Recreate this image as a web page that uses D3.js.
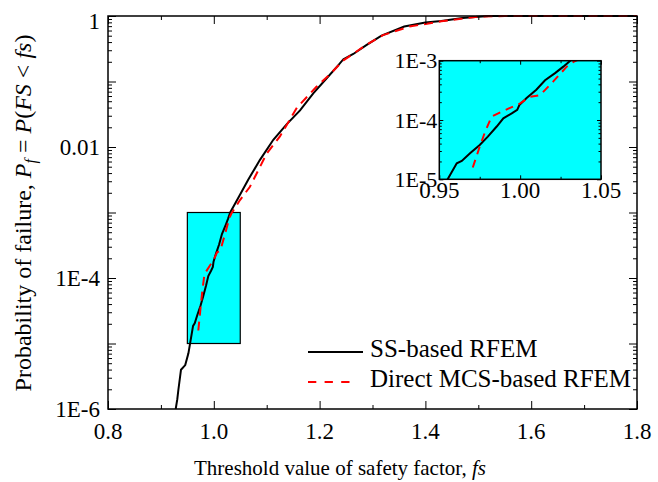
<!DOCTYPE html>
<html>
<head>
<meta charset="utf-8">
<script src="https://cdn.jsdelivr.net/npm/d3@7"></script>
<style>
  body { margin: 0; background: #fff; }
  text { font-family: "Liberation Serif", "Times New Roman", serif; fill: #000; }
</style>
</head>
<body>
<div id="chart"></div>
<script>
// SS-based RFEM (solid black)
var ssFs = [0.928, 0.931, 0.933, 0.938, 0.946, 0.952, 0.9556, 0.9608, 0.9639, 0.969, 0.975, 0.980,
    0.9855, 0.9896, 0.9948, 0.9982, 0.9995, 1.004, 1.010, 1.0154, 1.0216, 1.0267, 1.031,
    1.0495, 1.065, 1.087, 1.1125, 1.138, 1.163, 1.188, 1.2134, 1.2355, 1.245, 1.2637, 1.289,
    1.317, 1.36, 1.40, 1.43, 1.47, 1.50, 1.52, 1.8];
var ssPf = [1e-6, 1.41e-6, 1.95e-6, 3.98e-6, 4.68e-6, 7.08e-6, 1.05e-5, 1.86e-5, 2.04e-5, 2.75e-5, 3.8e-5, 5.25e-5,
    7.76e-5, 1.07e-4, 1.29e-4, 1.48e-4, 1.78e-4, 2.34e-4, 3.24e-4, 4.68e-4, 6.17e-4, 7.94e-4, 1e-3,
    1.86e-3, 3.16e-3, 6.31e-3, 0.0129, 0.0224, 0.0363, 0.066, 0.112, 0.178, 0.219, 0.263, 0.363,
    0.501, 0.692, 0.794, 0.841, 0.933, 0.977, 1, 1];

// Direct MCS-based RFEM (dashed red)
var mcsFs = [0.9707, 0.975, 0.9783, 0.9824, 0.9927, 1.000, 1.006, 1.0123, 1.0205, 1.0288, 1.033,
    1.0495, 1.068, 1.100, 1.125, 1.157, 1.194, 1.22, 1.245, 1.29, 1.32, 1.37, 1.43, 1.50, 1.55, 1.8];
var mcsPf = [1.58e-5, 3.55e-5, 6.31e-5, 1.15e-4, 1.55e-4, 1.91e-4, 2.45e-4, 2.63e-4, 4.47e-4, 7.94e-4, 9.55e-4,
    1.55e-3, 2.45e-3, 7.94e-3, 0.0145, 0.0398, 0.083, 0.13, 0.21, 0.37, 0.51, 0.69, 0.83, 0.977, 1, 1];

var xTicks = [0.8, 1.0, 1.2, 1.4, 1.6, 1.8];
var xMinor = [0.9, 1.1, 1.3, 1.5, 1.7];
var yDecades = [1e-6, 1e-5, 1e-4, 1e-3, 1e-2, 1e-1, 1];
var yTickVals = [1, 0.01, 1e-4, 1e-6];
var yTickLabels = ["1", "0.01", "1E-4", "1E-6"];

var insetXTicks = [0.95, 1.00, 1.05];
var insetXMinor = [0.975, 1.025];
var insetYTicks = [1e-3, 1e-4, 1e-5];
var insetYLabels = ["1E-3", "1E-4", "1E-5"];

var seriesNames = ["SS-based RFEM", "Direct MCS-based RFEM"];

var width = 658, height = 482;
var plot = { left: 108, right: 637, top: 16, bottom: 409 };
var ins = { left: 439.3, right: 601, top: 60.7, bottom: 179.3 };

function minorLog(lo, hi) {
    var out = [];
    for (var d = lo; d < hi * 0.999; d *= 10) {
        for (var k = 2; k <= 9; k++) out.push(d * k);
    }
    return out;
}

var svg = d3.select("#chart").append("svg")
    .attr("width", width)
    .attr("height", height);

var x = d3.scaleLinear().domain([0.8, 1.8]).range([plot.left, plot.right]);
var y = d3.scaleLog().domain([1e-6, 1]).range([plot.bottom, plot.top]);

svg.append("clipPath").attr("id", "mainClip")
    .append("rect")
    .attr("x", plot.left).attr("y", plot.top - 2)
    .attr("width", plot.right - plot.left).attr("height", plot.bottom - plot.top + 2);

// zoom window rectangle
svg.append("rect")
    .attr("x", x(0.95)).attr("y", y(1e-3))
    .attr("width", x(1.05) - x(0.95)).attr("height", y(1e-5) - y(1e-3))
    .attr("fill", "#00ffff")
    .attr("stroke", "#000")
    .attr("stroke-width", 1.2);

function drawAxes(g, xs, ys, box, xt, xm, ymaj, ymin, big, small) {
    g.append("g").attr("transform", `translate(0,${box.bottom})`)
        .call(d3.axisBottom(xs).tickValues(xt).tickSize(-big).tickSizeOuter(0).tickFormat(""));
    g.append("g").attr("transform", `translate(0,${box.bottom})`)
        .call(d3.axisBottom(xs).tickValues(xm).tickSize(-small).tickSizeOuter(0).tickFormat(""));
    g.append("g").attr("transform", `translate(0,${box.top})`)
        .call(d3.axisTop(xs).tickValues(xt).tickSize(-big).tickSizeOuter(0).tickFormat(""));
    g.append("g").attr("transform", `translate(0,${box.top})`)
        .call(d3.axisTop(xs).tickValues(xm).tickSize(-small).tickSizeOuter(0).tickFormat(""));
    g.append("g").attr("transform", `translate(${box.left},0)`)
        .call(d3.axisLeft(ys).tickValues(ymaj).tickSize(-big).tickSizeOuter(0).tickFormat(""));
    g.append("g").attr("transform", `translate(${box.left},0)`)
        .call(d3.axisLeft(ys).tickValues(ymin).tickSize(-small).tickSizeOuter(0).tickFormat(""));
    g.append("g").attr("transform", `translate(${box.right},0)`)
        .call(d3.axisRight(ys).tickValues(ymaj).tickSize(-big).tickSizeOuter(0).tickFormat(""));
    g.append("g").attr("transform", `translate(${box.right},0)`)
        .call(d3.axisRight(ys).tickValues(ymin).tickSize(-small).tickSizeOuter(0).tickFormat(""));
    g.selectAll(".domain").remove();
    g.selectAll(".tick line").attr("stroke", "#000").attr("stroke-width", 1);
    g.append("rect")
        .attr("x", box.left).attr("y", box.top)
        .attr("width", box.right - box.left).attr("height", box.bottom - box.top)
        .attr("fill", "none").attr("stroke", "#000").attr("stroke-width", 1.5);
}

var line = d3.line()
    .x(d => x(d[0]))
    .y(d => y(d[1]));

var curves = svg.append("g").attr("clip-path", "url(#mainClip)");
curves.append("path")
    .datum(d3.zip(ssFs, ssPf))
    .attr("d", line)
    .attr("fill", "none").attr("stroke", "#000").attr("stroke-width", 2);
curves.append("path")
    .datum(d3.zip(mcsFs, mcsPf))
    .attr("d", line)
    .attr("fill", "none").attr("stroke", "#ff0000").attr("stroke-width", 2)
    .attr("stroke-dasharray", "9,6");

var mainAxes = svg.append("g");
drawAxes(mainAxes, x, y, plot, xTicks, xMinor, yDecades, minorLog(1e-6, 1), 8, 4);

// tick labels
svg.append("g").selectAll("text")
    .data(xTicks).join("text")
    .attr("x", d => x(d)).attr("y", 439)
    .attr("text-anchor", "middle")
    .style("font-size", "23px")
    .text(d => d.toFixed(1));

svg.append("g").selectAll("text")
    .data(yTickVals).join("text")
    .attr("x", 100).attr("y", d => y(d) + (d === 1 ? 5 : 0))
    .attr("dy", "0.35em")
    .attr("text-anchor", "end")
    .style("font-size", "23px")
    .text((d, i) => yTickLabels[i]);

// axis titles
svg.append("text")
    .attr("x", 340).attr("y", 475)
    .attr("text-anchor", "middle")
    .style("font-size", "21px")
    .html('Threshold value of safety factor, <tspan font-style="italic">fs</tspan>');

svg.append("text")
    .attr("transform", "translate(31,213) rotate(-90)")
    .attr("text-anchor", "middle")
    .style("font-size", "24px")
    .html('Probability of failure, <tspan font-style="italic">P</tspan><tspan font-style="italic" dy="5" font-size="16px">f</tspan><tspan dy="-5"> = </tspan><tspan font-style="italic">P</tspan>(<tspan font-style="italic">FS</tspan> &lt; <tspan font-style="italic">fs</tspan>)');

// legend
var legend = svg.append("g");
legend.append("line")
    .attr("x1", 308).attr("x2", 363).attr("y1", 352).attr("y2", 352)
    .attr("stroke", "#000").attr("stroke-width", 2);
legend.append("line")
    .attr("x1", 308).attr("x2", 350).attr("y1", 382).attr("y2", 382)
    .attr("stroke", "#ff0000").attr("stroke-width", 2).attr("stroke-dasharray", "8.3,8.3");
legend.selectAll("text.lg")
    .data(seriesNames).join("text")
    .attr("class", "lg")
    .attr("x", 370).attr("y", (d, i) => 357 + i * 30)
    .style("font-size", "25px")
    .text(d => d);

// inset
var xi = d3.scaleLinear().domain([0.95, 1.05]).range([ins.left, ins.right]);
var yi = d3.scaleLog().domain([1e-5, 1e-3]).range([ins.bottom, ins.top]);

svg.append("clipPath").attr("id", "insetClip")
    .append("rect")
    .attr("x", ins.left).attr("y", ins.top)
    .attr("width", ins.right - ins.left).attr("height", ins.bottom - ins.top);

svg.append("rect")
    .attr("x", ins.left).attr("y", ins.top)
    .attr("width", ins.right - ins.left).attr("height", ins.bottom - ins.top)
    .attr("fill", "#00ffff");

var lineI = d3.line()
    .x(d => xi(d[0]))
    .y(d => yi(d[1]));

var insCurves = svg.append("g").attr("clip-path", "url(#insetClip)");
insCurves.append("path")
    .datum(d3.zip(ssFs, ssPf))
    .attr("d", lineI)
    .attr("fill", "none").attr("stroke", "#000").attr("stroke-width", 2);
insCurves.append("path")
    .datum(d3.zip(mcsFs, mcsPf))
    .attr("d", lineI)
    .attr("fill", "none").attr("stroke", "#ff0000").attr("stroke-width", 2)
    .attr("stroke-dasharray", "8,6");

var insAxes = svg.append("g");
drawAxes(insAxes, xi, yi, ins, insetXTicks, insetXMinor, [1e-5, 1e-4, 1e-3], minorLog(1e-5, 1e-3), 4, 2.5);

svg.append("g").selectAll("text")
    .data(insetXTicks).join("text")
    .attr("x", d => xi(d)).attr("y", 198)
    .attr("text-anchor", "middle")
    .style("font-size", "23px")
    .text(d => d.toFixed(2));

svg.append("g").selectAll("text")
    .data(insetYTicks).join("text")
    .attr("x", ins.left - 2).attr("y", d => yi(d))
    .attr("dy", "0.35em")
    .attr("text-anchor", "end")
    .style("font-size", "22px")
    .text((d, i) => insetYLabels[i]);
</script>
</body>
</html>
